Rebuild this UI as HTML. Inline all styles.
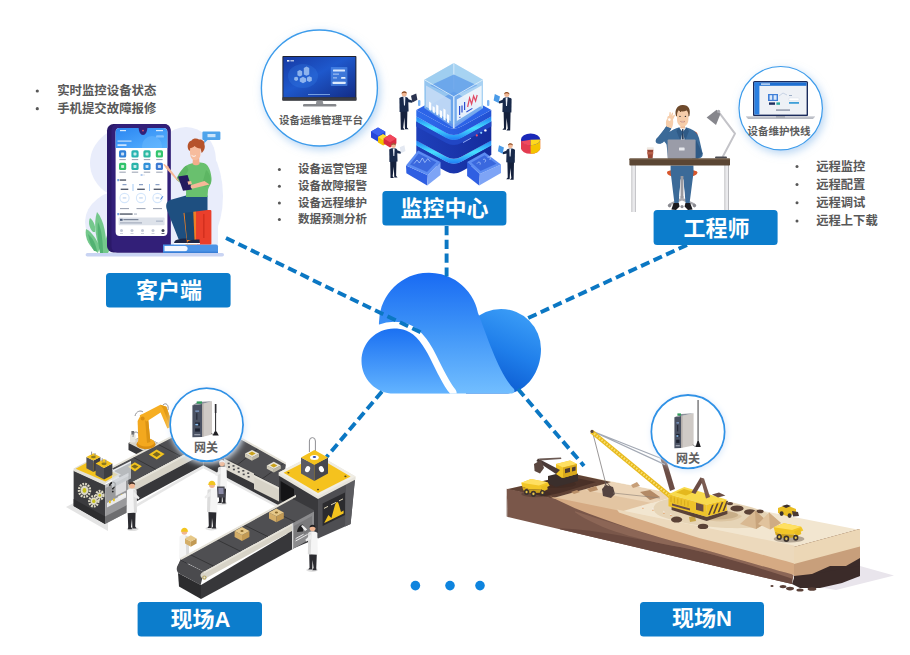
<!DOCTYPE html>
<html lang="zh"><head><meta charset="utf-8"><title>IoT</title>
<style>
html,body{margin:0;padding:0;background:#fff}
body{width:910px;height:655px;overflow:hidden;position:relative;font-family:"Liberation Sans",sans-serif}
svg{position:absolute;left:0;top:0;display:block}
svg text{font-family:"Liberation Sans","Noto Sans CJK SC",sans-serif;font-weight:bold}
.t{position:absolute;white-space:nowrap;line-height:1.2;font-weight:bold;color:transparent;font-family:"Liberation Sans","Noto Sans CJK SC",sans-serif}
</style></head><body>
<svg width="910" height="655" viewBox="0 0 910 655">

<defs>
<linearGradient id="gMain" x1="0" y1="275" x2="0" y2="394" gradientUnits="userSpaceOnUse">
<stop offset="0" stop-color="#1a6cf3"/><stop offset="0.45" stop-color="#3d93f7"/><stop offset="1" stop-color="#72beff"/></linearGradient>
<linearGradient id="gSmall" x1="0" y1="328" x2="0" y2="394" gradientUnits="userSpaceOnUse">
<stop offset="0" stop-color="#1a70f2"/><stop offset="1" stop-color="#63b4ff"/></linearGradient>
<linearGradient id="gRight" x1="530" y1="315" x2="495" y2="392" gradientUnits="userSpaceOnUse">
<stop offset="0" stop-color="#3b9df7"/><stop offset="0.5" stop-color="#1f7eea"/><stop offset="1" stop-color="#0a58cf"/></linearGradient>
<filter id="glow" x="-20%" y="-20%" width="150%" height="150%">
<feDropShadow dx="2" dy="3" stdDeviation="4" flood-color="#7fb4ea" flood-opacity="0.55"/></filter>
<filter id="glow2" x="-25%" y="-25%" width="150%" height="150%">
<feDropShadow dx="1" dy="1.5" stdDeviation="3.2" flood-color="#dcebfb" flood-opacity="1"/></filter>
<clipPath id="cloudclip"><rect x="340" y="260" width="220" height="133.6"/></clipPath>
</defs>
<defs>
<linearGradient id="gPhoneHdr" x1="0" y1="0" x2="1" y2="1"><stop offset="0" stop-color="#2b86f2"/><stop offset="1" stop-color="#58b2ff"/></linearGradient>
<clipPath id="hdrclip"><rect x="115.6" y="128" width="51.8" height="20"/></clipPath>
</defs><defs>
<linearGradient id="gMon" x1="0" y1="0" x2="1" y2="1"><stop offset="0" stop-color="#173aa4"/><stop offset="0.45" stop-color="#1e58cc"/><stop offset="1" stop-color="#132c86"/></linearGradient>
<linearGradient id="gCyan" x1="0" y1="0" x2="0" y2="1"><stop offset="0" stop-color="#1f7cf5"/><stop offset="0.5" stop-color="#45e0ff"/><stop offset="1" stop-color="#1f7cf5"/></linearGradient>
<linearGradient id="gSlab" x1="0" y1="0" x2="1" y2="0"><stop offset="0" stop-color="#1e3fba"/><stop offset="0.5" stop-color="#1a36ac"/><stop offset="1" stop-color="#142c9c"/></linearGradient>
<linearGradient id="gSlabTop" x1="0" y1="0" x2="1" y2="0"><stop offset="0" stop-color="#2f6cec"/><stop offset="0.5" stop-color="#2a5fe2"/><stop offset="1" stop-color="#2150d2"/></linearGradient>
</defs>
<g fill="#e9edfb">
<ellipse cx="137" cy="163" rx="47" ry="39"/>
<ellipse cx="128" cy="222" rx="43" ry="33"/>
<ellipse cx="188" cy="196" rx="35" ry="60"/>
<ellipse cx="186" cy="160" rx="30" ry="33"/>
<rect x="100" y="200" width="118" height="53"/>
</g>
<rect x="85.6" y="253" width="138.4" height="3.6" rx="1.8" fill="#c9d4f3"/>
<g fill="#74c88c">
<path d="M98 253 C90 248 84 238 86 229 C92 232 97 240 100 247 Z"/>
<path d="M101 253 C96 240 93 224 97 212 C104 220 107 236 106 253 Z"/>
<path d="M104 253 C104 243 107 232 112 226 C114 236 112 246 108 253 Z"/>
<path d="M93 232 C89 228 88 222 90 218 C94 221 96 227 95 232 Z"/>
</g>
<g fill="#52b273">
<path d="M100 253 C98 244 97 232 98 222 C102 230 103 244 103 253 Z"/>
<path d="M94 251 C91 246 89 240 88 234 C93 238 96 245 97 251 Z"/>
</g>
<rect x="107" y="124" width="63.6" height="128.4" rx="6.5" fill="#2a1968"/>
<rect x="111.5" y="124" width="59.1" height="128.4" rx="6" fill="#321f78"/>
<rect x="115.6" y="128" width="51.8" height="108" rx="4" fill="#ffffff"/>
<path d="M115.6 148 V132 a4 4 0 0 1 4 -4 H163.4 a4 4 0 0 1 4 4 V148 Z" fill="url(#gPhoneHdr)"/>
<circle cx="152" cy="146" r="10" fill="#7cc4ff" opacity="0.35" clip-path="url(#hdrclip)"/>
<path d="M138.6 128 H147.4 C147 132 145.6 135 143 135 C140.4 135 139 132 138.6 128 Z" fill="#321f78"/>
<circle cx="143" cy="130.6" r="0.9" fill="#e0566f"/>
<rect x="120" y="130" width="6" height="1.2" fill="#fff" opacity="0.8"/>
<rect x="156" y="130" width="7" height="1.2" fill="#fff" opacity="0.8"/>
<rect x="117.5" y="140.5" width="14" height="1.2" fill="#fff" opacity="0.7"/>
<rect x="117.5" y="144.4" width="9" height="1.4" fill="#fff" opacity="0.9"/>
<rect x="156" y="135.2" width="8" height="2.4" rx="1.2" fill="#fff" opacity="0.35"/>
<rect x="119.0" y="150.3" width="7.2" height="7.2" rx="1.6" fill="#2f80d8"/>
<rect x="121.1" y="152.4" width="3" height="3" rx="0.6" fill="#fff" opacity="0.75"/>
<rect x="119.4" y="159.2" width="6.4" height="0.9" fill="#8a93a6"/>
<rect x="131.4" y="150.3" width="7.2" height="7.2" rx="1.6" fill="#28b4b2"/>
<rect x="133.5" y="152.4" width="3" height="3" rx="0.6" fill="#fff" opacity="0.75"/>
<rect x="131.8" y="159.2" width="6.4" height="0.9" fill="#8a93a6"/>
<rect x="143.4" y="150.3" width="7.2" height="7.2" rx="1.6" fill="#2bb9a2"/>
<rect x="145.5" y="152.4" width="3" height="3" rx="0.6" fill="#fff" opacity="0.75"/>
<rect x="143.8" y="159.2" width="6.4" height="0.9" fill="#8a93a6"/>
<rect x="155.8" y="150.3" width="7.2" height="7.2" rx="1.6" fill="#32c56d"/>
<rect x="157.9" y="152.4" width="3" height="3" rx="0.6" fill="#fff" opacity="0.75"/>
<rect x="156.2" y="159.2" width="6.4" height="0.9" fill="#8a93a6"/>
<rect x="119.0" y="162.8" width="7.2" height="7.2" rx="1.6" fill="#30c36b"/>
<rect x="121.1" y="164.9" width="3" height="3" rx="0.6" fill="#fff" opacity="0.75"/>
<rect x="119.4" y="171.7" width="6.4" height="0.9" fill="#8a93a6"/>
<rect x="131.4" y="162.8" width="7.2" height="7.2" rx="1.6" fill="#28b4aa"/>
<rect x="133.5" y="164.9" width="3" height="3" rx="0.6" fill="#fff" opacity="0.75"/>
<rect x="131.8" y="171.7" width="6.4" height="0.9" fill="#8a93a6"/>
<rect x="143.4" y="162.8" width="7.2" height="7.2" rx="1.6" fill="#3090d8"/>
<rect x="145.5" y="164.9" width="3" height="3" rx="0.6" fill="#fff" opacity="0.75"/>
<rect x="143.8" y="171.7" width="6.4" height="0.9" fill="#8a93a6"/>
<rect x="155.8" y="162.8" width="7.2" height="7.2" rx="1.6" fill="#3b79d2"/>
<rect x="157.9" y="164.9" width="3" height="3" rx="0.6" fill="#fff" opacity="0.75"/>
<rect x="156.2" y="171.7" width="6.4" height="0.9" fill="#8a93a6"/>
<rect x="140.6" y="174.6" width="2" height="0.8" fill="#3b79d2"/><rect x="143.4" y="174.6" width="1.2" height="0.8" fill="#b9c2d4"/>
<rect x="117.5" y="179" width="1.2" height="2.2" fill="#3b79d2"/><rect x="119.6" y="179.4" width="6.5" height="1.3" fill="#444c5c"/>
<rect x="122.5" y="184.2" width="4" height="1" fill="#6d88b6"/>
<rect x="120.7" y="188.6" width="7.6" height="1.4" fill="#555d6e"/>
<circle cx="124.5" cy="198" r="4.6" fill="none" stroke="#d4e6fb" stroke-width="1.1"/>
<rect x="122.7" y="197.5" width="3.6" height="0.9" fill="#a7c3e8"/>
<rect x="120.0" y="208.2" width="9" height="0.9" fill="#8a93a6"/>
<rect x="139.0" y="184.2" width="4" height="1" fill="#6d88b6"/>
<rect x="137.2" y="188.6" width="7.6" height="1.4" fill="#555d6e"/>
<circle cx="141.0" cy="198" r="4.6" fill="none" stroke="#d4e6fb" stroke-width="1.1"/>
<rect x="139.2" y="197.5" width="3.6" height="0.9" fill="#a7c3e8"/>
<rect x="136.5" y="208.2" width="9" height="0.9" fill="#8a93a6"/>
<rect x="155.5" y="184.2" width="4" height="1" fill="#6d88b6"/>
<rect x="153.7" y="188.6" width="7.6" height="1.4" fill="#555d6e"/>
<circle cx="157.5" cy="198" r="4.6" fill="none" stroke="#d4e6fb" stroke-width="1.1"/>
<rect x="155.7" y="197.5" width="3.6" height="0.9" fill="#a7c3e8"/>
<rect x="153.0" y="208.2" width="9" height="0.9" fill="#8a93a6"/>
<rect x="132.7" y="184" width="0.6" height="7" fill="#6aa8ee"/><rect x="149" y="184" width="0.6" height="7" fill="#6aa8ee"/>
<path d="M160.6 199.5 l2.2 -3.2" stroke="#2f6fd0" stroke-width="1" fill="none"/>
<rect x="117.5" y="213" width="1.2" height="2.2" fill="#3b79d2"/><rect x="119.6" y="213.4" width="13" height="1.3" fill="#444c5c"/><rect x="134" y="213.6" width="3" height="0.9" fill="#9aa3b5"/>
<rect x="118.6" y="217.6" width="46" height="7.6" rx="1" fill="#dde2ea"/>
<rect x="120" y="218.8" width="2.6" height="2" fill="#4a5a78"/><rect x="123.4" y="219" width="15" height="1.2" fill="#7b8598"/><rect x="120" y="222.4" width="22" height="1" fill="#9aa3b5"/><rect x="156" y="220.4" width="7" height="1.6" fill="#b7c0d0"/>
<circle cx="121.5" cy="230.4" r="1.5" fill="#c3cad8"/>
<rect x="120.0" y="233" width="3" height="0.8" fill="#c3cad8"/>
<circle cx="132.0" cy="230.4" r="1.5" fill="#c3cad8"/>
<rect x="130.5" y="233" width="3" height="0.8" fill="#c3cad8"/>
<circle cx="142.5" cy="230.4" r="1.5" fill="#c3cad8"/>
<rect x="141.0" y="233" width="3" height="0.8" fill="#c3cad8"/>
<circle cx="153.0" cy="230.4" r="1.5" fill="#c3cad8"/>
<rect x="151.5" y="233" width="3" height="0.8" fill="#c3cad8"/>
<circle cx="163.0" cy="230.4" r="1.5" fill="#3a4256"/>
<rect x="161.5" y="233" width="3" height="0.8" fill="#3a4256"/>
<path d="M203.4 131.4 H219.4 a1 1 0 0 1 1 1 V139 a1 1 0 0 1 -1 1 H207.5 L204.2 143.2 V140 H203.4 a1 1 0 0 1 -1 -1 V132.4 a1 1 0 0 1 1 -1 Z" fill="#4fa4eb"/>
<rect x="207.5" y="134" width="8" height="3.2" fill="#d9ecfc" opacity="0.9"/>
<path d="M163 244.4 H216 a2 2 0 0 1 2 2 V253 H163 Z" fill="#4b93e6"/>
<path d="M164.5 246 H185 a2.6 2.6 0 0 1 0 5.2 H164.5 Z" fill="#f4f8ff"/>
<rect x="163" y="251.6" width="55" height="1.4" fill="#3a7fd6"/>
<path d="M180 212.5 L196 210 V244.4 H185.5 Z" fill="#ef7e22"/>
<rect x="196" y="210" width="15.4" height="34.4" rx="1" fill="#ea3f2b"/>
<rect x="203" y="214" width="1.6" height="24" fill="#d4301f"/>
<path d="M184 207 L193 206 L194.5 240 L187 240 Z" fill="#1a466f"/>
<path d="M207.5 195.5 L186 195.5 L170 200 C166 201.5 165.5 206 167 210 L178.5 239 L186.5 239 L183.5 213 L207.5 210 Z" fill="#1e4f80"/>
<path d="M174 243.4 C174 240 178 238.5 186.5 238.5 L187 243.4 Z" fill="#1c2747"/>
<path d="M187 243.4 C187 240.5 191 239.5 199.5 239.5 L199.8 243.4 Z" fill="#1c2747"/>
<rect x="174" y="243" width="13.2" height="1.2" fill="#fff"/><rect x="187.2" y="243" width="12.8" height="1.2" fill="#fff"/>
<path d="M186 166 C190 162.5 200 161.5 205 163.5 C209 165.5 211 172 211.5 178 C212 184 209 186 208 190 L207.5 197 L186 197 C186.5 188 185.5 180 184 174 C183 170 184 167.5 186 166 Z" fill="#69c06e"/>
<path d="M186.5 165.5 C183 167 178.5 174 176 179.5 L180.5 183 C183.5 178 187 173.5 188.5 170 Z" fill="#5db663"/>
<path d="M176.2 179.6 L166 168.5 L164.4 166 L163.2 164.6 L164.6 164 L166.6 166 C167.6 165.4 168.6 166 168.8 167.4 L180.4 182.6 Z" fill="#f6b898"/>
<path d="M178 176.6 L187.6 175 L192 189.4 L183 190.8 Z" fill="#251a5f"/>
<path d="M206 170 C210 173 212 180 210 184.5 L204.5 187 L203 181 Z" fill="#5db663"/>
<path d="M209.6 184.6 L193 188.6 C190.6 188.8 190 186 191.4 185 L204.4 181 Z" fill="#f6b898"/>
<path d="M187.5 181.6 l3.6 -0.6 l0.8 3 l-3.6 0.8 z" fill="#f6b898"/>
<path d="M193 157 L199 157 L199.6 164 C197.6 165.8 194.4 165.8 192.6 164 Z" fill="#f3ad8a"/>
<path d="M190 147 C190 143 200.4 142.6 200.6 148 L200.4 155 C200 159.2 196.6 160.6 194 160 C191.2 159.4 190 156 190 152 Z" fill="#f7bc9d"/>
<path d="M188.6 150 C186.6 146 188 141.4 191.6 140.4 C193 138.2 197 137.8 199 139.6 C202.4 139 205 141.6 204.4 144.6 C205.6 147.6 204 151.4 201.6 153 L200.6 148.4 C198.6 148.6 196 147.6 194.6 146 C193.2 147.6 191.4 148 190.2 148 L190 151 Z" fill="#b6532b"/>
<path d="M191.6 155.4 c1.4 1.2 3 1.2 4.2 0.2" stroke="#fff" stroke-width="0.9" fill="none"/>
<circle cx="319.4" cy="88" r="58" fill="#fff" stroke="#3c9ceb" stroke-width="1.4" filter="url(#glow)"/>
<circle cx="780.7" cy="108.2" r="41.7" fill="#fff" stroke="#3c9ceb" stroke-width="1.2" filter="url(#glow)"/>
<rect x="282.4" y="56" width="74" height="44.6" rx="0.8" fill="#20222e"/>
<rect x="283.4" y="57" width="72" height="40.4" fill="url(#gMon)"/>
<ellipse cx="303" cy="76" rx="15" ry="12" fill="#3f8cf0" opacity="0.22"/>
<g fill="#bcd9fb" opacity="0.7" transform="translate(60.6 15.2) scale(0.8)">
<path d="M296 70 l3 -1.6 l3 1.6 v5 l-3 1.6 l-3 -1.6z"/>
<path d="M304 66 l3.4 -1.8 l3.4 1.8 v8 l-3.4 1.8 l-3.4 -1.8z"/>
<path d="M299 79 l4 -2 l4 2 v4 l-4 2 l-4 -2z"/>
<path d="M308 78 l3 -1.6 l3 1.6 v4 l-3 1.6 l-3 -1.6z"/>
<path d="M292 78 l2.4 -1.2 l2.4 1.2 v3 l-2.4 1.2 l-2.4 -1.2z"/>
</g>
<rect x="287" y="60" width="2.4" height="1.6" fill="#fff" opacity="0.9"/><rect x="290.4" y="60.2" width="3.6" height="1.2" fill="#fff" opacity="0.8"/>
<rect x="330.8" y="67" width="16.6" height="19" rx="0.8" fill="#5b9df5" opacity="0.55"/>
<rect x="333" y="69.4" width="12" height="2" rx="0.5" fill="#e8f2ff" opacity="0.9"/>
<rect x="333" y="73.6" width="6" height="1" fill="#e8f2ff" opacity="0.7"/>
<rect x="333" y="77.4" width="4" height="1" fill="#e8f2ff" opacity="0.7"/><rect x="341" y="77" width="4.6" height="1.8" rx="0.9" fill="#e8f2ff"/>
<rect x="332.6" y="81.8" width="13" height="2.2" rx="0.5" fill="#e8f2ff" opacity="0.95"/>
<rect x="308" y="94" width="22" height="0.9" fill="#9cc3f5" opacity="0.8"/>
<rect x="282.4" y="97.4" width="74" height="3.2" fill="#3b3c42"/>
<path d="M316.6 100.6 H322.6 L323.4 104.4 H315.8 Z" fill="#8e9094"/>
<rect x="303" y="104" width="33.4" height="2.6" rx="1.2" fill="#85878b"/>
<rect x="753" y="81" width="55" height="35.4" rx="1.6" fill="#1b2b5c"/>
<rect x="754.4" y="82.4" width="52.2" height="32.2" fill="#eef1f6"/>
<rect x="754.4" y="82.4" width="52.2" height="3.4" fill="#1e6fd2"/>
<rect x="754.4" y="82.4" width="5" height="32.2" fill="#2b7fe0"/>
<rect x="761" y="83.4" width="9" height="1.4" fill="#cfe2fa"/>
<rect x="768" y="94" width="10" height="7" fill="#3f7fd8"/>
<rect x="769.6" y="95.2" width="2.6" height="4.6" fill="#dbe9fb"/><rect x="773.6" y="95.2" width="3" height="4.6" fill="#dbe9fb"/>
<rect x="769" y="102.4" width="6" height="2.4" fill="#1f2f60"/><rect x="776.4" y="102.4" width="3.6" height="2.4" fill="#2aa7a0"/>
<path d="M779 96 l4 -3 l4 2" stroke="#b8c6dc" stroke-width="0.7" fill="none"/>
<rect x="789" y="95" width="3" height="1" fill="#9fb0c8"/><rect x="789" y="98" width="10" height="2.6" rx="0.4" fill="#fff" stroke="#cdd6e4" stroke-width="0.4"/><rect x="789" y="102" width="10" height="1.8" fill="#3f9fd8"/>
<rect x="776" y="109.6" width="14" height="0.9" fill="#55617a"/>
<path d="M746 116.4 H815 L813 119 H748 Z" fill="#b9bcc4"/>
<rect x="746" y="116.2" width="69" height="1" fill="#d6d8de"/>
<rect x="776" y="116.4" width="9" height="1" fill="#8d919b"/>
<path d="M371 131.5 l7 -4 l7.4 4.2 v6 l-7.2 4 l-7.2 -4.2z" fill="#2747d8"/><path d="M371 131.5 l7 -4 l7.4 4.2 l-7.2 4z" fill="#3d63f0"/>
<path d="M378 137 l5 -2.8 l5.4 3 v5.4 l-5.2 3 l-5.2 -3z" fill="#f2c200"/><path d="M378 137 l5 -2.8 l5.4 3 l-5.2 3z" fill="#ffe03a"/>
<path d="M383.6 138.4 l6.4 -3.8 l6.4 3.8 v5.2 l-6.4 3.8 l-6.4 -3.8z" fill="#d92a40"/><path d="M383.6 138.4 l6.4 -3.8 l6.4 3.8 l-6.4 3.8z" fill="#f2475c"/>
<path d="M521 139.6 v8.6 a9.6 5.6 0 0 0 19.2 0 v-8.6z" fill="#e33b50"/>
<path d="M530.6 145 v8.8 a9.6 5.6 0 0 0 9.6 -5.6 v-8.6z" fill="#f4c400"/>
<ellipse cx="530.6" cy="139.4" rx="9.6" ry="5.8" fill="#1a28b8"/>
<path d="M530.6 139.8 L521.2 141.2 A9.6 5.8 0 0 0 530.6 145.2 Z" fill="#f04a5e"/>
<path d="M530.6 139.8 L530.6 145.2 A9.6 5.8 0 0 0 540.2 139.4 Z" fill="#ffd91f"/>
<path d="M416.3 145.0 L416.3 145.0 L445.8 161.2 Q453.8 165.6 461.8 161.2 L491.3 145.0 L491.3 155.0 L461.8 171.2 Q453.8 175.6 445.8 171.2 L416.3 155.0 Z" fill="url(#gSlab)"/>
<path d="M416.3 140.2 L416.3 140.2 L445.8 156.4 Q453.8 160.8 461.8 156.4 L491.3 140.2 L491.3 145.4 L461.8 161.6 Q453.8 166.0 445.8 161.6 L416.3 145.4 Z" fill="url(#gCyan)"/>
<path d="M416.3 121.3 L416.3 121.3 L445.8 137.5 Q453.8 141.9 461.8 137.5 L491.3 121.3 L491.3 140.4 L461.8 156.6 Q453.8 161.0 445.8 156.6 L416.3 140.4 Z" fill="url(#gSlab)"/>
<path d="M416.3 121.3 L416.3 121.3 L445.8 137.5 Q453.8 141.9 461.8 137.5 L491.3 121.3 L491.3 126.5 L461.8 142.7 Q453.8 147.1 445.8 142.7 L416.3 126.5 Z" fill="#2146c4"/>
<path d="M416.3 116.4 L416.3 116.4 L445.8 132.6 Q453.8 137.0 461.8 132.6 L491.3 116.4 L491.3 121.5 L461.8 137.7 Q453.8 142.1 445.8 137.7 L416.3 121.5 Z" fill="url(#gCyan)"/>
<path d="M416.3 110.0 L416.3 110.0 L445.8 126.2 Q453.8 130.6 461.8 126.2 L491.3 110.0 L491.3 116.6 L461.8 132.8 Q453.8 137.2 445.8 132.8 L416.3 116.6 Z" fill="url(#gSlabTop)"/>
<path d="M416.3 110 L445.8 93.8 Q453.8 89.4 461.8 93.8 L491.3 110 L461.8 126.2 Q453.8 130.6 445.8 126.2 Z" fill="#2c64e8"/>
<circle cx="476.8" cy="135.4" r="1.1" fill="#f0506a"/><circle cx="481.2" cy="132.8" r="1.1" fill="#8fd0ff"/><circle cx="485.4" cy="130.4" r="1.2" fill="#ffffff"/>
<path d="M463 142.6 l8 -4.4" stroke="#9db8ff" stroke-width="0.9" fill="none"/>
<rect x="418" y="100" width="2.4" height="6" rx="1" fill="#7fb6f2"/><rect x="487" y="100" width="2.4" height="6" rx="1" fill="#7fb6f2"/>
<path d="M424.6 108.2 L453.8 91.4 L483 108.2 L453.8 125 Z" fill="#3a83e6"/>
<path d="M424.4 79.8 L453.8 62.9 L453.8 91.4 L424.6 108.2 Z" fill="#9ccdf0"/>
<path d="M483 79.8 L453.8 62.9 L453.8 91.4 L483 108.2 Z" fill="#a8d4f3"/>
<path d="M453.4 63 h0.9 v26 h-0.9z" fill="#f2f9ff"/>
<path d="M430.2 85.4 L453.8 74.6 L477.4 85.4 L453.8 96.4 Z" fill="#3f86e6" opacity="0.85"/>
<path d="M424.4 79.8 L453.8 62.9 L483 79.8 L453.8 96.7 Z" fill="#a5d2f2" opacity="0.35"/>
<path d="M424.4 79.8 L453.8 96.7 L453.8 128.2 L424.6 108.2 Z" fill="#8fc0ee" opacity="0.55"/>
<path d="M426 85.4 L450.8 99.8 L450.8 121.2 L426 106.8 Z" fill="#c6dcf6" opacity="0.88"/>
<path d="M483 79.8 L453.8 96.7 L453.8 128.2 L483 108.2 Z" fill="#a9d0f2" opacity="0.55"/>
<path d="M456.8 99.4 L481.6 85.6 L481.6 105.6 L456.8 121 Z" fill="#f0f5fc" opacity="0.92"/>
<path d="M424.4 79.8 L453.8 96.7 L483 79.8" stroke="#e4f2fd" stroke-width="0.8" fill="none"/>
<path d="M453.8 96.7 V128.2" stroke="#e9f4fe" stroke-width="1.2" fill="none"/>
<path d="M429.0 109.6 v-8.0 l2.2 1.3 v8.0 z" fill="#ffffff" opacity="0.95"/>
<path d="M432.6 112.1 v-6.0 l2.2 1.3 v6.0 z" fill="#ffffff" opacity="0.95"/>
<path d="M436.2 114.5 v-10.0 l2.2 1.3 v10.0 z" fill="#ffffff" opacity="0.95"/>
<path d="M439.8 117.0 v-7.0 l2.2 1.3 v7.0 z" fill="#ffffff" opacity="0.95"/>
<path d="M443.4 119.5 v-11.0 l2.2 1.3 v11.0 z" fill="#ffffff" opacity="0.95"/>
<path d="M447.0 121.9 v-8.0 l2.2 1.3 v8.0 z" fill="#ffffff" opacity="0.95"/>
<path d="M459.6 115 v-9 m2.4 6.4 v-7 m2.6 4.6 v-8" stroke="#2b4fd0" stroke-width="1.2" fill="none"/>
<path d="M467.6 107 l2 -9 l2 6 l2 -8 l2 5 l1.6 -6" stroke="#e04a64" stroke-width="1.2" fill="none"/>
<path d="M459.4 117.6 l1 -0.6 m6 -5 l6 -3.6" stroke="#2b4fd0" stroke-width="1.1"/>
<path d="M406 165.6 L427.8 175.3 L427.2 185.6 L406.4 173.2 Z" fill="#2f5fe2"/>
<path d="M427.8 175.3 L440.5 162 L440.5 175 L427.2 185.6 Z" fill="#7ea4f6"/>
<path d="M418.1 150.5 L406 165.6 L427.8 175.3 L440.5 162 Z" fill="#5c8cf2"/>
<path d="M418.6 153.6 L410 164.6 L427 172 L436.4 162.2 Z" fill="#3a68de"/>
<path d="M414 163.6 l3 -3.6 l2.4 3 l3 -5 l2.4 4.6 l3 -4 l2.4 3" stroke="#b9d2ff" stroke-width="0.7" fill="none"/>
<path d="M467.1 162 L479.8 174.1 L479.2 185.6 L467.1 175.9 Z" fill="#2f5fe2"/>
<path d="M479.8 174.1 L501 164.4 L501 172.9 L479.2 185.6 Z" fill="#7ea4f6"/>
<path d="M484.6 152.3 L467.1 162 L479.8 174.1 L501 164.4 Z" fill="#5c8cf2"/>
<path d="M484.6 155.2 L471.4 162.4 L480.6 171 L496.4 163.8 Z" fill="#3a68de"/>
<path d="M477 163.6 c2 -3 4 -1 3 1 m3 -5 c2.4 -1.4 3.6 1 1.6 2.8 m3 -5 c2.4 -1.6 4 0.6 2 2.6" stroke="#b9d2ff" stroke-width="0.7" fill="none"/>
<g transform="translate(404.0 129.4) scale(1.0 1.0)"><path d="M-3.6 -19 L3.4 -19 L3 -2 L4.6 -0.2 L1 -0.2 L0.4 -12 L-0.8 -1.6 L0.6 0.4 L-3.2 0.4 Z" fill="#14203c"/><path d="M-4.6 -31 C-4.6 -33 3.6 -33.4 4.2 -31 L4.6 -18 L-4.4 -17.4 Z" fill="#18294a"/><path d="M-0.6 -32.4 L1.4 -32.4 L1 -24 L0 -24 Z" fill="#e9eef7"/><path d="M2.6 -31 L8.6 -28.6 L8 -26.6 L2.4 -27.4 Z" fill="#18294a"/><path d="M7 -33.6 L12.2 -36 L13.4 -29.6 L8.4 -27 Z" fill="#2b3350"/><circle cx="0.2" cy="-35.4" r="2.5" fill="#f2b895"/><path d="M-2.4 -35.6 C-2.6 -38.8 2.8 -39 2.8 -35.8 C1.2 -37 -1 -37 -2.4 -35.6 Z" fill="#8b4a22"/></g>
<g transform="translate(507.0 130.0) scale(-1.0 1.0)"><path d="M-3.6 -19 L3.4 -19 L3 -2 L4.6 -0.2 L1 -0.2 L0.4 -12 L-0.8 -1.6 L0.6 0.4 L-3.2 0.4 Z" fill="#14203c"/><path d="M-4.6 -31 C-4.6 -33 3.6 -33.4 4.2 -31 L4.6 -18 L-4.4 -17.4 Z" fill="#18294a"/><path d="M-0.6 -32.4 L1.4 -32.4 L1 -24 L0 -24 Z" fill="#e9eef7"/><path d="M2.6 -31 L8.6 -28.6 L8 -26.6 L2.4 -27.4 Z" fill="#18294a"/><path d="M7 -33.6 L12.2 -36 L13.4 -29.6 L8.4 -27 Z" fill="#4a9be8"/><circle cx="0.2" cy="-35.4" r="2.5" fill="#f2b895"/><path d="M-2.4 -35.6 C-2.6 -38.8 2.8 -39 2.8 -35.8 C1.2 -37 -1 -37 -2.4 -35.6 Z" fill="#8b4a22"/></g>
<g transform="translate(393.4 177.6) scale(0.9 0.9)"><path d="M-3.6 -19 L3.4 -19 L3 -2 L4.6 -0.2 L1 -0.2 L0.4 -12 L-0.8 -1.6 L0.6 0.4 L-3.2 0.4 Z" fill="#14203c"/><path d="M-4.6 -31 C-4.6 -33 3.6 -33.4 4.2 -31 L4.6 -18 L-4.4 -17.4 Z" fill="#18294a"/><path d="M-0.6 -32.4 L1.4 -32.4 L1 -24 L0 -24 Z" fill="#e9eef7"/><path d="M2.6 -31 L8.6 -28.6 L8 -26.6 L2.4 -27.4 Z" fill="#18294a"/><path d="M7 -33.6 L12.2 -36 L13.4 -29.6 L8.4 -27 Z" fill="#e4e9f2"/><circle cx="0.2" cy="-35.4" r="2.5" fill="#f2b895"/><path d="M-2.4 -35.6 C-2.6 -38.8 2.8 -39 2.8 -35.8 C1.2 -37 -1 -37 -2.4 -35.6 Z" fill="#8b4a22"/></g>
<g transform="translate(510.6 179.4) scale(-0.95 0.95)"><path d="M-3.6 -19 L3.4 -19 L3 -2 L4.6 -0.2 L1 -0.2 L0.4 -12 L-0.8 -1.6 L0.6 0.4 L-3.2 0.4 Z" fill="#14203c"/><path d="M-4.6 -31 C-4.6 -33 3.6 -33.4 4.2 -31 L4.6 -18 L-4.4 -17.4 Z" fill="#18294a"/><path d="M-0.6 -32.4 L1.4 -32.4 L1 -24 L0 -24 Z" fill="#e9eef7"/><path d="M2.6 -31 L8.6 -28.6 L8 -26.6 L2.4 -27.4 Z" fill="#18294a"/><path d="M7 -33.6 L12.2 -36 L13.4 -29.6 L8.4 -27 Z" fill="#4a9be8"/><circle cx="0.2" cy="-35.4" r="2.5" fill="#f2b895"/><path d="M-2.4 -35.6 C-2.6 -38.8 2.8 -39 2.8 -35.8 C1.2 -37 -1 -37 -2.4 -35.6 Z" fill="#8b4a22"/></g>
<rect x="631.4" y="165" width="1.2" height="47" fill="#b9b9bd"/><rect x="634.6" y="165" width="1.2" height="47" fill="#b9b9bd"/><rect x="632.6" y="165" width="2" height="47" fill="#e9e9ec"/>
<rect x="724.4" y="165" width="1.2" height="46" fill="#b9b9bd"/><rect x="727.8" y="165" width="1.2" height="46" fill="#b9b9bd"/><rect x="725.6" y="165" width="2.2" height="46" fill="#e9e9ec"/>
<rect x="680.6" y="176" width="2.8" height="22" fill="#9a9aa0"/>
<path d="M669 203.4 L682 197.6 L695 203.4 L694 205.4 L682 200.6 L670 205.4 Z" fill="#a8a8ae"/>
<circle cx="669.6" cy="205.6" r="1.8" fill="#8a8a90"/><circle cx="694.4" cy="205.6" r="1.8" fill="#8a8a90"/><circle cx="682" cy="206.6" r="1.6" fill="#8a8a90"/>
<path d="M690 132 C694 130.4 697.6 131.4 697.6 135 L698.6 158 L689 158 Z" fill="#d8572c"/>
<path d="M667 172.6 C667 170.6 670 170 682 170 C694 170 697.4 170.6 697.4 172.6 C697.4 175.6 692 177.4 682 177.4 C672 177.4 667 175.6 667 172.6 Z" fill="#d8572c"/>
<path d="M670.6 165.6 L693.4 165.6 L693.6 172 L689.6 203 L685.6 203 L683.4 180 L682 176 L680.6 180 L678.6 203 L674.4 203 L670.6 172 Z" fill="#3b6a98"/>
<path d="M682 176 L680.6 180 L679.4 196 L684.6 196 L683.4 180 Z" fill="#fff"/>
<rect x="680.6" y="176" width="2.8" height="22" fill="#9a9aa0"/>
<path d="M673.6 203 L678.8 203 L679.6 206.4 L676 210 L671.4 209.6 Z" fill="#1b1b1f"/>
<path d="M685.4 203 L690.2 203 L692.6 209.6 L688 210 L684.6 206.4 Z" fill="#1b1b1f"/>
<path d="M666 139 C668 131.6 674 128.6 679 127.4 L686 127.4 C692 128.8 697 131.4 699 138 L702.6 153.6 C703.2 156.4 701 158.4 698.4 158.6 L668 158.6 Z" fill="#3b6a98"/>
<path d="M679 128 L673 130 L658 137.4 C654.6 139.4 655 143.4 658.6 143.8 C660.6 144 662 143 662.8 141.4 L671 128.6 L666.6 125.6 L660 136.6 L668 146 L677 140 Z" fill="#3b6a98"/>
<path d="M666.4 126.4 L671.4 128.6 L664 141.6 C662.6 144 658 144.4 656.6 141.6 C656 140 656.4 138.6 657.6 137.6 Z" fill="#3b6a98"/>
<path d="M666.6 126.8 C665.4 123.6 665.8 120 667.4 118.6 C667 116.6 668 115.6 669 116 L669.6 112 L670.8 112.2 L670.8 115.6 L672.2 112.6 L673.2 113 L672.4 116.6 L674.2 114.6 L675 115.4 L673 119.4 C673.6 122.4 673 125.6 671.8 128.2 Z" fill="#f6cdaa"/>
<circle cx="669.4" cy="119.6" r="1.3" fill="#fff"/>
<path d="M679.4 127.4 L686 127.4 L684.6 140 L680.6 140 Z" fill="#fff"/>
<path d="M682.1 129 L683.4 129 L683.8 139.6 L681.6 139.6 Z" fill="#2a3f5c"/>
<path d="M679 127.4 L682.6 132 L680.4 141 L676.4 131 Z" fill="#2f5a86"/><path d="M686.4 127.4 L682.8 132 L685 141 L689 131 Z" fill="#2f5a86"/>
<rect x="680.4" y="122" width="4.6" height="6.4" fill="#eebd98"/>
<path d="M676.8 113 C676.8 108.6 688.6 108.6 688.6 113 L688.4 120 C688 124.4 685 126.6 682.6 126.6 C680.2 126.6 677.2 124.4 677 120 Z" fill="#f6cdaa"/>
<path d="M676 116 C674.4 110 677 105.4 682.4 105 C688.4 104.6 691 109 689.4 116 L688.4 116.6 C688.6 113.4 687.6 111.4 686.6 110.6 C683.6 112 679.6 111.6 678.4 110.6 C677.4 112 676.8 114 677 116.6 Z" fill="#6e4a2c"/>
<circle cx="680" cy="116.4" r="0.7" fill="#333"/><circle cx="685.4" cy="116.4" r="0.7" fill="#333"/>
<path d="M680.4 121.4 c1.4 1.4 3.2 1.4 4.6 0 z" fill="#fff" stroke="#b05a4a" stroke-width="0.4"/>
<path d="M696 140 L702.6 153.6 L698 158.6 L692 158.6 Z" fill="#2f5a86"/>
<path d="M668.6 139.6 H694.6 a1 1 0 0 1 1 1 V158.6 H667.6 V140.6 a1 1 0 0 1 1 -1 Z" fill="#9a9ca8"/>
<rect x="679" y="147.4" width="5.6" height="3.2" rx="0.6" fill="#e6e7ec"/>
<path d="M647.2 149.4 H653.4 L652.6 158.6 H648 Z" fill="#9a4634"/>
<rect x="646.8" y="147.2" width="7" height="2.4" rx="0.8" fill="#efe9e2"/>
<rect x="647.4" y="152" width="5.8" height="2.4" fill="#b7604a"/>
<path d="M718.4 111.6 L735 133.6 L722.6 157" stroke="#c3c3c8" stroke-width="2" fill="none" stroke-linejoin="round"/>
<path d="M706.6 117.4 L716.6 109.8 L720.4 114 L716 125 Z" fill="#86868c"/>
<circle cx="718.6" cy="111.4" r="1.6" fill="#a8a8ae"/>
<rect x="715" y="156.4" width="12" height="2.2" rx="1" fill="#4a4a50"/>
<rect x="629.4" y="158.6" width="100.6" height="7" rx="0.8" fill="#5b4634"/>
<rect x="629.4" y="158.6" width="100.6" height="1.4" fill="#6e5843"/>
<path d="M466 393.6 L505 393.6 C526 393.6 541 372 541 349 A40 40 0 0 0 461 349 Z" fill="url(#gRight)"/>
<path d="M379 325 A50 50 0 0 1 478 313 C487 336 499 374 514 389 Q516 393.6 510 393.6 L420 393.6 L380 345 Z" fill="url(#gMain)"/>
<path d="M394 328.5 C376 328.5 361.5 343 361.5 361 C361.5 379 376 393.6 394 393.6 L450 393.6 C443 385 437 372 430 358 C424 346 416 334 406 330.5 C402 329 398 328.5 394 328.5 Z" fill="#fff" stroke="#fff" stroke-width="13.6" stroke-linejoin="round" clip-path="url(#cloudclip)"/>
<path d="M394 328.5 C376 328.5 361.5 343 361.5 361 C361.5 379 376 393.6 394 393.6 L450 393.6 C443 385 437 372 430 358 C424 346 416 334 406 330.5 C402 329 398 328.5 394 328.5 Z" fill="url(#gSmall)"/>
<path d="M446.6 226 V277" stroke="#0b77c3" stroke-width="3.9" stroke-dasharray="9.2 4.6" fill="none"/>
<path d="M687 245 L526 319" stroke="#0b77c3" stroke-width="3.9" stroke-dasharray="9.2 4.6" fill="none"/>
<path d="M382 391.5 L326.5 457" stroke="#0b77c3" stroke-width="3.9" stroke-dasharray="9.2 4.6" fill="none"/>
<path d="M518 389 L584 466" stroke="#0b77c3" stroke-width="3.9" stroke-dasharray="9.2 4.6" fill="none"/>
<path d="M226 238 L422 333" stroke="#0b77c3" stroke-width="3.9" stroke-dasharray="9.2 4.6" fill="none"/>
<path d="M66.0 507.0 L73.6 503.0 L108.0 521.0 L108.0 531.0 Z" fill="#e4e4e4"/>
<path d="M128.0 512.0 L203.3 468.3 L203.3 465.3 L128.0 509.0 Z" fill="#e6e6e6"/>
<path d="M203.3 465.3 L203.3 468.3 L279.0 508.4 L279.0 505.4 Z" fill="#e6e6e6"/>
<path d="M128.5 443.0 L143.0 435.4 L158.0 443.0 L158.0 450.0 L143.0 457.6 L128.5 450.0 Z" fill="#37373a"/>
<path d="M128.5 443.0 L143.0 435.4 L158.0 443.0 L143.0 450.6 Z" fill="#d7d3c7"/>
<rect x="130" y="434" width="5.6" height="8.6" rx="1.6" fill="#e9e7e0"/><rect x="131.4" y="431" width="2.8" height="3.6" fill="#6d6d70"/>
<path d="M112.0 468.0 L208.0 418.6 L208.0 442.0 L126.0 485.4 Z" fill="#4f4f52"/>
<path d="M133.0 457.2 L156.0 469.5" stroke="#2e2e30" stroke-width="0.8"/>
<path d="M158.0 444.3 L181.0 456.3" stroke="#2e2e30" stroke-width="0.8"/>
<path d="M183.0 431.5 L206.0 443.0" stroke="#2e2e30" stroke-width="0.8"/>
<path d="M112.0 466.4 L208.0 417.0 L208.0 419.2 L112.0 468.6 Z" fill="#e6e3d9"/>
<path d="M148.8 454.6 L156.6 449.4 L164.6 454.0 L156.8 459.6 Z" fill="#f2c31e"/>
<path d="M152.6 454.4 L156.6 451.8 L160.6 454.2 L156.7 457.0 Z" fill="#7a6820"/>
<path d="M128.0 466.8 L134.8 462.2 L141.8 466.2 L135.0 471.4 Z" fill="#f2c31e"/>
<path d="M131.4 466.6 L134.8 464.4 L138.4 466.4 L135.0 468.8 Z" fill="#7a6820"/>
<path d="M128.0 484.4 L203.3 444.5 L203.3 454.0 L128.0 493.9 Z" fill="#d7d3c7"/>
<path d="M128.0 484.4 L203.3 444.5 L203.3 446.7 L128.0 486.6 Z" fill="#e6e3d9"/>
<path d="M128.0 493.9 L203.3 454.0 L203.3 465.3 L128.0 505.9 Z" fill="#37373a"/>
<ellipse cx="146" cy="444.4" rx="9.6" ry="4.8" fill="#d98e12"/>
<ellipse cx="146" cy="442.4" rx="8.4" ry="4" fill="#f3a81e"/>
<path d="M133 437 C133 430 139 431 139 436" stroke="#8a8a8e" stroke-width="0.9" fill="none"/>
<path d="M138.4 442.6 L137.6 421.0 L141.0 414.6 L148.0 417.4 L150.4 442.0 Z" fill="#f3a81e"/>
<path d="M145.0 418.0 L148.0 417.4 L150.4 442.0 L147.0 443.0 Z" fill="#dc9414"/>
<path d="M139.6 415.6 L160.4 404.8 L166.4 406.8 L173.0 426.0 L167.4 428.6 L160.6 412.6 L146.6 421.4 Z" fill="#f6ae22"/>
<path d="M160.4 404.8 L166.4 406.8 L173.0 426.0 L170.4 427.2 L163.0 408.6 Z" fill="#e29a16"/>
<circle cx="142.6" cy="418.6" r="2" fill="#d98e12"/>
<path d="M135 416 C136 411 141 410 143 412 M163 405 C166 402 169 405 168 410" stroke="#8a8a8e" stroke-width="0.9" fill="none"/>
<path d="M205.0 418.7 L286.0 464.1 L282.0 489.0 L205.0 450.5 Z" fill="#4f4f52"/>
<path d="M258.0 448.4 L236.0 466.0" stroke="#2e2e30" stroke-width="0.8"/>
<path d="M284.0 463.0 L262.0 479.0" stroke="#2e2e30" stroke-width="0.8"/>
<path d="M205.0 417.1 L286.0 462.5 L286.0 464.7 L205.0 419.3 Z" fill="#e6e3d9"/>
<path d="M245.0 453.6 L252.0 457.3 L252.0 460.7 L245.0 457.0 Z" fill="#cfcab8"/><path d="M259.0 453.6 L252.0 457.3 L252.0 460.7 L259.0 457.0 Z" fill="#bdb8a6"/><path d="M245.0 453.6 L252.0 449.9 L259.0 453.6 L252.0 457.3 Z" fill="#e9e5d6"/>
<path d="M248.4 453.6 L252.0 451.6 L255.6 453.6 L252.0 455.6 Z" fill="#c9a21c"/>
<path d="M266.8 465.4 L273.8 469.1 L273.8 472.5 L266.8 468.8 Z" fill="#cfcab8"/><path d="M280.8 465.4 L273.8 469.1 L273.8 472.5 L280.8 468.8 Z" fill="#bdb8a6"/><path d="M266.8 465.4 L273.8 461.7 L280.8 465.4 L273.8 469.1 Z" fill="#e9e5d6"/>
<path d="M270.2 465.4 L273.8 463.4 L277.4 465.4 L273.8 467.4 Z" fill="#c9a21c"/>
<path d="M203.3 445.6 L280.0 488.0 L280.0 506.1 L203.3 465.3 Z" fill="#37373a"/>
<path d="M254.0 475.0 L279.0 487.5 L279.0 501.5 L254.0 489.0 Z" fill="#d7d3c7"/>
<path d="M254.0 475.0 L279.0 487.5 L279.0 489.5 L254.0 477.0 Z" fill="#e6e3d9"/>
<path d="M224.0 458.4 L254.0 473.4 L254.6 484.0 L224.6 469.0 Z" fill="#dedad0"/>
<rect x="227.6" y="462.6" width="2" height="1.6" fill="#4a4a4e"/>
<rect x="228.0" y="466.2" width="2" height="1.6" fill="#4a4a4e"/>
<rect x="232.5" y="465.1" width="2" height="1.6" fill="#4a4a4e"/>
<rect x="232.9" y="468.7" width="2" height="1.6" fill="#4a4a4e"/>
<rect x="237.4" y="467.5" width="2" height="1.6" fill="#4a4a4e"/>
<rect x="237.8" y="471.1" width="2" height="1.6" fill="#4a4a4e"/>
<rect x="242.3" y="470.0" width="2" height="1.6" fill="#4a4a4e"/>
<rect x="242.7" y="473.6" width="2" height="1.6" fill="#4a4a4e"/>
<rect x="247.2" y="472.4" width="2" height="1.6" fill="#4a4a4e"/>
<rect x="247.6" y="476.0" width="2" height="1.6" fill="#4a4a4e"/>
<path d="M279.0 475.0 L318.0 498.0 L318.0 538.0 L292.0 549.0 L279.0 505.4 Z" fill="#39393c"/>
<path d="M280.6 481.0 L294.0 489.0 L294.0 508.0 L280.6 500.0 Z" fill="#141416"/>
<path d="M318.0 498.0 L355.0 479.0 L350.6 524.0 L318.0 538.6 Z" fill="#4e4e52"/>
<path d="M346.0 483.6 L355.0 479.0 L350.6 524.0 L345.0 526.6 Z" fill="#5c5c60"/>
<path d="M322.6 503.6 L345.0 492.6 L345.0 515.0 L322.6 526.0 Z" fill="#2b2b2e"/>
<path d="M324.4 522.6 L328.4 515 L331.4 518 L335 505 C336.4 501 338 501 339 505 L341 512 L343.6 510.6 L343.6 513.4 L324.4 523 Z" fill="#f2c31e"/>
<path d="M324 508.4 l4 -2 m3 -1.5 l5 -2.5 m3 -1.5 l4 -2" stroke="#f2e9c8" stroke-width="0.9"/>
<path d="M278.6 472.6 L316.0 453.4 L355.6 476.6 L355.6 479.6 L318.0 499.0 L278.6 475.6 Z" fill="#e7e4db"/>
<path d="M278.6 472.6 L316.0 453.4 L355.6 476.6 L318.0 496.0 Z" fill="#f0ede4"/>
<path d="M283.6 472.8 L316.0 456.2 L350.6 476.4 L318.0 493.0 Z" fill="#f5c21e"/>
<ellipse cx="288.4" cy="472.8" rx="1.1" ry="0.8" fill="#5a4a18"/>
<ellipse cx="316.4" cy="459.4" rx="1.1" ry="0.8" fill="#5a4a18"/>
<ellipse cx="345.4" cy="476.4" rx="1.1" ry="0.8" fill="#5a4a18"/>
<ellipse cx="318.0" cy="489.6" rx="1.1" ry="0.8" fill="#5a4a18"/>
<path d="M309.4 452 V441 a3 3.4 0 0 1 6 0 V452" stroke="#8f8f93" stroke-width="1" fill="none"/>
<path d="M301.0 457.4 L314.4 464.8 L314.4 481.0 L301.0 473.4 Z" fill="#5b5b62"/>
<path d="M328.0 457.4 L314.4 464.8 L314.4 481.0 L328.0 473.4 Z" fill="#47474d"/>
<path d="M301.0 457.4 L314.4 450.0 L328.0 457.4 L314.4 464.8 Z" fill="#f5c21e"/>
<ellipse cx="314.4" cy="457.4" rx="4.4" ry="2.5" fill="#fff"/><ellipse cx="314.4" cy="457" rx="1.7" ry="1.1" fill="#2d48b8"/>
<ellipse cx="307.6" cy="469.2" rx="2.4" ry="3.2" fill="#fff" transform="rotate(25 307.6 469.2)"/>
<ellipse cx="321.4" cy="469.2" rx="2.4" ry="3.2" fill="#fff" transform="rotate(-25 321.4 469.2)"/>
<g transform="translate(184.0 574.0) scale(0.98 0.98)"><ellipse cx="1" cy="0.4" rx="6" ry="2" fill="#000" opacity="0.12"/><path d="M-4 -17 L4 -17 L3.6 -2 L5 0 L0.8 0 L0.4 -10 L-0.6 -1.6 L0.8 0.6 L-3.6 0.6 L-3.4 -2 Z" fill="#2b2b30"/><path d="M-4.6 -38 C-4 -40.4 4 -40.4 4.8 -38 L5.4 -16 L-5 -15.4 Z" fill="#f5f5f5"/><path d="M1.6 -39 L4.8 -38 L5.4 -16 L2.4 -16 Z" fill="#dcdcdc"/><path d="M2 -37 L8 -31 L7 -29.4 L1.6 -32 Z" fill="#ececec"/><circle cx="0.4" cy="-43" r="3" fill="#f0b692"/><path d="M-3 -43.4 C-3 -48.4 4 -48.4 4 -43.4 L4.8 -43 L-3.6 -43 Z" fill="#f2c520"/></g>
<path d="M178.0 573.0 L201.0 585.0 L201.0 599.0 L179.0 586.4 Z" fill="#2c2c2e"/>
<path d="M201.0 585.0 L201.0 599.0 L292.0 549.6 L292.0 531.0 Z" fill="#37373a"/>
<path d="M177.0 568.6 L180.0 560.6 L204.0 572.0 L201.0 579.4 Z" fill="#505053"/>
<path d="M177.4 566 C176 569 177 572.6 179.4 573.6 L200.6 585 L204 572 L180.4 560.4 Z" fill="#4a4a4d"/>
<path d="M180.4 559.7 L292.0 498.6 L314.0 510.2 L314.0 511.5 L204.0 571.8 Z" fill="#4f4f52"/>
<path d="M190.0 554.5 L214.0 566.3" stroke="#2e2e30" stroke-width="0.8"/>
<path d="M217.0 539.7 L241.0 551.5" stroke="#2e2e30" stroke-width="0.8"/>
<path d="M244.0 524.9 L268.0 536.7" stroke="#2e2e30" stroke-width="0.8"/>
<path d="M271.0 510.1 L295.0 521.9" stroke="#2e2e30" stroke-width="0.8"/>
<path d="M180.4 558.1 L296.0 494.8 L296.0 497.0 L180.4 560.3 Z" fill="#e6e3d9"/>
<path d="M204 571.8 L292 523.6 L292 531.0 L204 579.2 C199.6 578.2 199 572.8 204 571.8 Z" fill="#d7d3c7"/>
<path d="M204.0 571.8 L292.0 523.6 L292.0 525.4 L204.0 573.6 Z" fill="#e6e3d9"/>
<circle cx="204.4" cy="577.6" r="2.2" fill="#b9a96a"/><circle cx="204.4" cy="577.6" r="1" fill="#e9e4d0"/>
<path d="M234.6 531.0 L242.0 534.9 L242.0 540.9 L234.6 537.0 Z" fill="#d4ae68"/><path d="M249.4 531.0 L242.0 534.9 L242.0 540.9 L249.4 537.0 Z" fill="#c29a54"/><path d="M234.6 531.0 L242.0 527.1 L249.4 531.0 L242.0 534.9 Z" fill="#e6c888"/>
<ellipse cx="242" cy="531" rx="1.6" ry="1" fill="#8a6a2e"/>
<path d="M269.0 512.4 L276.4 516.3 L276.4 522.3 L269.0 518.4 Z" fill="#d4ae68"/><path d="M283.8 512.4 L276.4 516.3 L276.4 522.3 L283.8 518.4 Z" fill="#c29a54"/><path d="M269.0 512.4 L276.4 508.5 L283.8 512.4 L276.4 516.3 Z" fill="#e6c888"/>
<ellipse cx="276.4" cy="512.4" rx="1.6" ry="1" fill="#8a6a2e"/>
<path d="M292.0 523.6 L314.0 511.6 L314.0 537.0 L292.0 549.4 Z" fill="#8c8c8e"/>
<path d="M294.0 526.0 L312.0 516.0 L312.0 530.0 L294.0 540.0 Z" fill="#7a7a7c"/>
<path d="M297 532 c0.6 -4 3 -7 5.4 -7.4 c2 0.6 1 4 0.6 7 z" fill="#1f1f21"/>
<path d="M295.6 538.6 l8 -4.4 m-8 6.8 l12 -6.6" stroke="#f2f2f2" stroke-width="0.9"/>
<path d="M292.0 523.6 L293.2 523.0 L293.2 548.8 L292.0 549.4 Z" fill="#d8d8d8"/>
<path d="M185.0 538.4 L190.8 541.5 L190.8 546.7 L185.0 543.6 Z" fill="#d4ae68"/><path d="M196.6 538.4 L190.8 541.5 L190.8 546.7 L196.6 543.6 Z" fill="#c29a54"/><path d="M185.0 538.4 L190.8 535.3 L196.6 538.4 L190.8 541.5 Z" fill="#e6c888"/>
<path d="M73.6 470.6 L105.4 485.0 L105.0 524.0 L73.6 506.0 Z" fill="#3b3b3e"/>
<path d="M73.6 499.0 L105.2 516.6 L105.0 524.0 L73.6 506.0 Z" fill="#2d2d2f"/>
<ellipse cx="84.5" cy="490.4" rx="5.5" ry="6.4" fill="none" stroke="#dcd8c4" stroke-width="2.4" stroke-dasharray="1.8 1"/>
<ellipse cx="84.5" cy="490.4" rx="4.0" ry="4.6" fill="#dcd8c4"/>
<ellipse cx="84.5" cy="490.4" rx="1.9" ry="2.3" fill="#c7c11a"/>
<ellipse cx="93.8" cy="501.2" rx="4.5" ry="5.2" fill="none" stroke="#dcd8c4" stroke-width="2.4" stroke-dasharray="1.8 1"/>
<ellipse cx="93.8" cy="501.2" rx="3.2" ry="3.7" fill="#dcd8c4"/>
<ellipse cx="93.8" cy="501.2" rx="1.6" ry="1.9" fill="#c7c11a"/>
<ellipse cx="99.8" cy="495.2" rx="3.6" ry="4.2" fill="none" stroke="#dcd8c4" stroke-width="2.4" stroke-dasharray="1.8 1"/>
<ellipse cx="99.8" cy="495.2" rx="2.6" ry="3.0" fill="#dcd8c4"/>
<ellipse cx="99.8" cy="495.2" rx="1.3" ry="1.5" fill="#c7c11a"/>
<path d="M105.4 485.0 L128.4 473.0 L128.0 512.0 L105.0 524.0 Z" fill="#9a9a9c"/>
<path d="M105.4 485.0 L128.4 473.0 L128.4 476.0 L105.4 488.0 Z" fill="#c4c4c6"/>
<path d="M105.0 516.6 L128.0 504.6 L128.0 512.0 L105.0 524.0 Z" fill="#6e6e70"/>
<path d="M107.0 503.0 L126.0 493.0 L126.0 497.6 L107.0 507.6 Z" fill="#e9e9ea"/>
<rect x="109" y="500.6" width="1.8" height="2.6" fill="#e9c81e"/><rect x="113" y="498.6" width="1.8" height="2.6" fill="#e9c81e"/><rect x="121" y="494.4" width="1.8" height="2.6" fill="#e9c81e"/>
<path d="M109.6 485.8 c0.4 -3.6 5.6 -5 5.8 -1.4 c0 2.4 -2.6 2.6 -2.8 5" stroke="#222" stroke-width="1.5" fill="none"/><circle cx="112.8" cy="491.6" r="0.9" fill="#222"/>
<path d="M115.6 486.0 L126.0 480.6 L126.0 490.6 L115.6 496.0 Z" fill="#dcdcde"/>
<path d="M73.6 468.6 L90.0 459.6 L121.0 474.6 L105.4 483.4 L105.4 485.6 L73.6 471.0 Z" fill="#e3e0d6"/>
<path d="M75.6 468.8 L90.0 461.0 L118.0 474.6 L105.4 481.6 Z" fill="#f3c21e"/>
<path d="M112.0 470.6 L131.0 461.0 L131.0 478.4 L112.0 488.0 Z" fill="#d9dde2" opacity="0.75"/>
<path d="M112.0 470.6 L131.0 461.0 L131.0 462.4 L112.0 472.0 Z" fill="#f2f4f6" opacity="0.9"/>
<path d="M86.4 456.9 L93.4 460.6 L93.4 472.0 L86.4 468.3 Z" fill="#515156"/><path d="M100.4 456.9 L93.4 460.6 L93.4 472.0 L100.4 468.3 Z" fill="#3e3e42"/><path d="M86.4 456.9 L93.4 453.2 L100.4 456.9 L93.4 460.6 Z" fill="#f3c21e"/>
<path d="M91.6 455 v-3.4 M95 456.4 v-3.4" stroke="#8a8a8e" stroke-width="0.9"/><ellipse cx="93.4" cy="457" rx="2.4" ry="1.3" fill="#8c7a20"/>
<path d="M95.6 463.6 L104.0 468.1 L104.0 479.5 L95.6 475.0 Z" fill="#515156"/><path d="M112.4 463.6 L104.0 468.1 L104.0 479.5 L112.4 475.0 Z" fill="#3e3e42"/><path d="M95.6 463.6 L104.0 459.1 L112.4 463.6 L104.0 468.1 Z" fill="#f3c21e"/>
<path d="M102.2 461.6 v-3.4 M105.8 463 v-3.4" stroke="#8a8a8e" stroke-width="0.9"/><ellipse cx="104" cy="463.8" rx="2.6" ry="1.4" fill="#8c7a20"/>
<g transform="translate(131.6 528.6) scale(1.0 1.0)"><ellipse cx="1" cy="0.4" rx="6" ry="2" fill="#000" opacity="0.12"/><path d="M-4 -17 L4 -17 L3.6 -2 L5 0 L0.8 0 L0.4 -10 L-0.6 -1.6 L0.8 0.6 L-3.6 0.6 L-3.4 -2 Z" fill="#2b2b30"/><path d="M-4.6 -38 C-4 -40.4 4 -40.4 4.8 -38 L5.4 -16 L-5 -15.4 Z" fill="#f5f5f5"/><path d="M1.6 -39 L4.8 -38 L5.4 -16 L2.4 -16 Z" fill="#dcdcdc"/><path d="M2 -37 L8 -31 L7 -29.4 L1.6 -32 Z" fill="#ececec"/><circle cx="0.4" cy="-43" r="3" fill="#f0b692"/><path d="M-2.8 -43.2 C-3.4 -47.6 3.8 -47.8 3.6 -43.6 C2 -45.2 -1 -45.2 -2.8 -43.2 Z" fill="#3a2a22"/></g>
<path d="M118 496.4 l7 -3.4 l1 2.6 l-7 3.6 z" fill="#f1f1f1"/>
<g transform="translate(222.4 503.0) scale(-0.92 0.92)"><ellipse cx="1" cy="0.4" rx="6" ry="2" fill="#000" opacity="0.12"/><path d="M-4 -17 L4 -17 L3.6 -2 L5 0 L0.8 0 L0.4 -10 L-0.6 -1.6 L0.8 0.6 L-3.6 0.6 L-3.4 -2 Z" fill="#2b2b30"/><path d="M-4.6 -38 C-4 -40.4 4 -40.4 4.8 -38 L5.4 -16 L-5 -15.4 Z" fill="#f5f5f5"/><path d="M1.6 -39 L4.8 -38 L5.4 -16 L2.4 -16 Z" fill="#dcdcdc"/><path d="M2 -37 L8 -31 L7 -29.4 L1.6 -32 Z" fill="#ececec"/><circle cx="0.4" cy="-43" r="3" fill="#f0b692"/><path d="M-2.8 -43.2 C-3.4 -47.6 3.8 -47.8 3.6 -43.6 C2 -45.2 -1 -45.2 -2.8 -43.2 Z" fill="#f5f5f5"/></g>
<path d="M217.0 486.4 L224.6 486.4 L225.0 497.4 L217.4 497.4 Z" fill="#4a4a55"/>
<path d="M218.4 488.0 L223.4 488.0 L223.6 494.0 L218.6 494.0 Z" fill="#8a8aa6"/>
<g transform="translate(212.4 528.0) scale(-1.0 1.0)"><ellipse cx="1" cy="0.4" rx="6" ry="2" fill="#000" opacity="0.12"/><path d="M-4 -17 L4 -17 L3.6 -2 L5 0 L0.8 0 L0.4 -10 L-0.6 -1.6 L0.8 0.6 L-3.6 0.6 L-3.4 -2 Z" fill="#2b2b30"/><path d="M-4.6 -38 C-4 -40.4 4 -40.4 4.8 -38 L5.4 -16 L-5 -15.4 Z" fill="#f5f5f5"/><path d="M1.6 -39 L4.8 -38 L5.4 -16 L2.4 -16 Z" fill="#dcdcdc"/><path d="M2 -37 L8 -31 L7 -29.4 L1.6 -32 Z" fill="#ececec"/><circle cx="0.4" cy="-43" r="3" fill="#f0b692"/><path d="M-3 -43.4 C-3 -48.4 4 -48.4 4 -43.4 L4.8 -43 L-3.6 -43 Z" fill="#f2c520"/></g>
<g transform="translate(313.0 569.6) scale(-0.96 0.96)"><ellipse cx="1" cy="0.4" rx="6" ry="2" fill="#000" opacity="0.12"/><path d="M-4 -17 L4 -17 L3.6 -2 L5 0 L0.8 0 L0.4 -10 L-0.6 -1.6 L0.8 0.6 L-3.6 0.6 L-3.4 -2 Z" fill="#2b2b30"/><path d="M-4.6 -38 C-4 -40.4 4 -40.4 4.8 -38 L5.4 -16 L-5 -15.4 Z" fill="#f5f5f5"/><path d="M1.6 -39 L4.8 -38 L5.4 -16 L2.4 -16 Z" fill="#dcdcdc"/><path d="M2 -37 L8 -31 L7 -29.4 L1.6 -32 Z" fill="#ececec"/><circle cx="0.4" cy="-43" r="3" fill="#f0b692"/><path d="M-2.8 -43.2 C-3.4 -47.6 3.8 -47.8 3.6 -43.6 C2 -45.2 -1 -45.2 -2.8 -43.2 Z" fill="#1f1f21"/></g>
<path d="M305 531 l-4 -5 l1.6 -1 l4.6 4.6 z" fill="#ececec"/>
<path d="M860.0 566.0 L894.0 575.6 L836.0 590.0 L800.0 584.0 Z" fill="#e9e5ec"/>
<path d="M506.7 489.3 L574.0 474.0 L860.0 530.0 L794.0 548.0 Z" fill="#f2e6d0"/>
<path d="M664 500 C690 494 730 500 760 510 C780 517 770 527 745 528 C715 529 680 524 660 516 C650 511 652 503 664 500 Z" fill="#e6d4b6"/>
<path d="M700 512 C715 508 735 511 742 516 C738 522 715 523 703 519 C697 516 697 514 700 512 Z" fill="#d9c19c" opacity="0.8"/>
<path d="M551.6 498.5 L611.0 482.0 L678.0 495.0 L619.0 512.2 Z" fill="#e3c5a2"/>
<path d="M585.0 490.0 L611.0 482.0 L678.0 495.0 L652.0 503.0 Z" fill="#ecd5b8"/>
<path d="M506.7 489.3 L574.0 474.0 L611.0 482.0 L551.6 498.5 Z" fill="#5f4134"/>
<path d="M522.0 487.0 L566.0 476.0 L596.0 482.0 L560.0 493.0 L540.0 497.0 Z" fill="#4a3027"/>
<path d="M506.7 488.8 L794.0 547.5 L792.0 584.0 L507.7 517.0 Z" fill="#7a574a"/>
<path d="M560 528.3 C600 529.8 640 540.2 680 547.0 C720 555.0 760 568.5 793 576.0 L792 584 L560 529.3 Z" fill="#6a493f"/>
<path d="M575 511.3 C610 522.4 650 535.6 690 545.7 C730 556.9 765 567.1 793.6 575 L793 579 C760 568.5 720 555.0 680 547.0 C640 540.2 600 529.8 575 512.3 Z" fill="#8c6656"/>
<path d="M550 496.5 L794 546.4 L794 575 C765 567.1 730 556.9 690 545.7 C650 535.6 610 522.4 575 508.3 Z" fill="#d5aa83"/>
<path d="M617 509.4 L794 545.6 L794 563.4 C770 557.1 740 548.0 700 538.2 C670 529.3 640 519.5 619 512.6 Z" fill="#ecd9bc"/>
<path d="M506.7 489.3 L507.7 517.0 L506.7 516.6 Z" fill="#6b4a3e"/>
<path d="M794.0 547.0 L860.0 529.0 L860.0 576.0 L794.0 584.0 Z" fill="#3b2b29"/>
<path d="M794.0 547.0 L860.0 529.0 L860.0 558.0 L846.0 566.0 L830.0 566.0 L812.0 574.0 L794.0 576.0 Z" fill="#c89f7b"/>
<path d="M794.0 547.0 L860.0 529.0 L860.0 546.4 L794.0 564.0 Z" fill="#ecd7b6"/>
<path d="M792 584 L794 578 L830 571 L860 566 L860 576 L842 583 L820 588 L800 588 Z" fill="#3b2b29"/>
<ellipse cx="783.0" cy="586.6" rx="3.4" ry="1.6" fill="#5a4038"/>
<ellipse cx="790.0" cy="588.6" rx="4.0" ry="1.8" fill="#5a4038"/>
<ellipse cx="800.0" cy="590.0" rx="3.6" ry="1.6" fill="#5a4038"/>
<ellipse cx="812.0" cy="589.0" rx="4.4" ry="1.8" fill="#5a4038"/>
<ellipse cx="772.0" cy="586.0" rx="1.6" ry="0.9" fill="#5a4038"/>
<path d="M571.0 492.0 L577.0 490.0 L580.0 492.0 L574.0 494.0 Z" fill="#b98f68"/>
<path d="M587.0 489.0 L596.0 486.0 L598.0 490.0 L590.0 492.0 Z" fill="#b98f68"/>
<path d="M631.0 485.0 L637.0 482.0 L640.0 486.0 L633.0 488.0 Z" fill="#c79f78"/>
<path d="M640.0 492.0 L650.0 490.0 L660.0 497.0 L650.0 500.0 Z" fill="#b38a66"/>
<path d="M642.0 508.0 l0.9 -2.4 l0.9 2.4 z" fill="#f3f3f3"/><rect x="642.0" y="507.8" width="1.8" height="0.6" fill="#e2863a"/>
<path d="M652.0 510.0 l0.9 -2.4 l0.9 2.4 z" fill="#f3f3f3"/><rect x="652.0" y="509.8" width="1.8" height="0.6" fill="#e2863a"/>
<path d="M663.0 513.0 l0.9 -2.4 l0.9 2.4 z" fill="#f3f3f3"/><rect x="663.0" y="512.8" width="1.8" height="0.6" fill="#e2863a"/>
<path d="M670.0 515.6 l0.9 -2.4 l0.9 2.4 z" fill="#f3f3f3"/><rect x="670.0" y="515.4" width="1.8" height="0.6" fill="#e2863a"/>
<ellipse cx="676.6" cy="519.6" rx="5.6" ry="3.0" fill="#5b4236"/>
<ellipse cx="703.0" cy="526.4" rx="5.2" ry="2.6" fill="#5b4236"/>
<ellipse cx="737.0" cy="508.4" rx="6.6" ry="3.0" fill="#5b4236"/>
<ellipse cx="750.0" cy="512.0" rx="6.0" ry="2.8" fill="#5b4236"/>
<ellipse cx="760.0" cy="511.4" rx="3.6" ry="1.8" fill="#5b4236"/>
<ellipse cx="730.0" cy="503.6" rx="3.0" ry="1.6" fill="#5b4236"/>
<path d="M689.0 517.0 L695.0 515.6 L696.0 521.0 L690.0 522.0 Z" fill="#c9a64a"/>
<path d="M740.0 524.0 L755.0 510.6 L768.0 522.0 L756.0 529.0 Z" fill="#d9b992"/>
<path d="M755.0 510.6 L768.0 522.0 L756.0 529.0 Z" fill="#c8a47c"/>
<path d="M758.0 524.0 L769.0 512.6 L781.0 523.0 L770.0 529.6 Z" fill="#e1c39d"/>
<path d="M769.0 512.6 L781.0 523.0 L770.0 529.6 Z" fill="#cfac84"/>
<ellipse cx="556" cy="484" rx="20" ry="4" fill="#3a2820" opacity="0.4"/>
<path d="M548.0 476.0 L572.0 470.0 L578.0 474.0 L578.0 481.0 L556.0 487.0 L548.0 483.0 Z" fill="#3b2f2c"/>
<path d="M556.0 464.0 L570.0 460.6 L577.0 464.0 L577.0 474.0 L562.0 478.0 L556.0 474.0 Z" fill="#f2c627"/>
<path d="M556.0 464.0 L570.0 460.6 L577.0 464.0 L563.0 467.6 Z" fill="#ffe061"/>
<path d="M563.0 467.6 L577.0 464.0 L577.0 474.0 L563.0 478.0 Z" fill="#d9a91c"/>
<path d="M565.0 469.0 L570.0 467.8 L570.0 472.0 L565.0 473.2 Z" fill="#4a3a34"/>
<path d="M572.0 467.4 L575.6 466.4 L575.6 470.6 L572.0 471.6 Z" fill="#4a3a34"/>
<path d="M560 470 L538 458.6 L536.4 461 L556 474 Z" fill="#4a3a36"/>
<path d="M539 458.6 L561 457.6 L561.4 459 L540 460.4 Z" fill="#6b5a54"/>
<path d="M534.0 464.0 L541.0 460.0 L544.0 468.0 L540.0 473.6 L534.6 471.0 Z" fill="#5a463f"/>
<g transform="translate(535.0 494.6) scale(0.98 0.98)"><ellipse cx="1" cy="-0.6" rx="15" ry="3.4" fill="#3a2820" opacity="0.35"/><path d="M-14 -12 L-4 -16 L13 -12.6 L15 -9 L6 -5 L-6 -5.4 L-13 -8 Z" fill="#f2c627"/><path d="M-14 -12 L-4 -16 L13 -12.6 L4 -9.4 Z" fill="#ffe061"/><path d="M-13 -8 L-6 -5.4 L-5.6 -1.6 L-12 -4.4 Z" fill="#d9a91c"/><path d="M-6 -5.4 L6 -5 L8 -2 L-5.6 -1.6 Z" fill="#caa01c"/><path d="M6 -8 L12 -10.4 L13 -5.4 L8 -3 Z" fill="#e9bd22"/><ellipse cx="-8.6" cy="-2.6" rx="2.6" ry="3" fill="#3a3230"/><ellipse cx="-8.6" cy="-2.6" rx="1.1" ry="1.3" fill="#e9c54a"/><ellipse cx="-1.6" cy="-0.8" rx="2.8" ry="3.2" fill="#3a3230"/><ellipse cx="-1.6" cy="-0.8" rx="1.2" ry="1.4" fill="#e9c54a"/><ellipse cx="7.6" cy="-1.8" rx="2.6" ry="3" fill="#3a3230"/><ellipse cx="7.6" cy="-1.8" rx="1.1" ry="1.3" fill="#e9c54a"/></g>
<path d="M660.6 459 L665.6 458 L675 489 L670 491 Z" fill="#6b4d45"/>
<path d="M592 431 L662.6 459 M592 431 L665 464.6" stroke="#a3a9b4" stroke-width="1.3" fill="none"/>
<path d="M592.4 431.4 L606.4 486" stroke="#6e6a6a" stroke-width="0.7" fill="none"/>
<path d="M591.6 431.6 L671 497" stroke="#e8ba1e" stroke-width="4.4" fill="none"/>
<path d="M591.6 431.6 L671 497" stroke="#fbe47a" stroke-width="2.2" stroke-dasharray="1.6 1.6" fill="none" opacity="0.85"/>
<circle cx="592" cy="431.4" r="1.6" fill="#5a463f"/>
<path d="M602.0 489.0 L606.0 485.0 L613.0 487.0 L615.0 494.0 L611.0 498.0 L603.0 496.0 Z" fill="#54433f"/>
<path d="M604 488 L606.4 482 L611 487" stroke="#54433f" stroke-width="0.8" fill="none"/>
<path d="M613 493 L660 498" stroke="#8a7d74" stroke-width="0.6" fill="none"/>
<ellipse cx="716" cy="515" rx="22" ry="4.6" fill="#b89a74" opacity="0.55"/>
<path d="M671.6 506.0 L706.7 517.0 L727.4 510.6 L727.4 514.0 L706.7 521.0 L671.6 510.0 Z" fill="#5a4238"/>
<path d="M668.5 494.3 L706.7 504.8 L706.7 516.8 L668.5 506.2 Z" fill="#eec22a"/>
<path d="M706.7 504.8 L726.5 499.6 L727.0 510.6 L706.7 516.8 Z" fill="#f2c627"/>
<path d="M668.5 494.3 L684.3 487.0 L726.5 499.6 L706.7 504.8 Z" fill="#f8da4c"/>
<path d="M671.0 496.6 v5.4" stroke="#d4a61a" stroke-width="0.9"/>
<path d="M674.4 497.5 v5.4" stroke="#d4a61a" stroke-width="0.9"/>
<path d="M677.8 498.5 v5.4" stroke="#d4a61a" stroke-width="0.9"/>
<path d="M681.2 499.4 v5.4" stroke="#d4a61a" stroke-width="0.9"/>
<path d="M684.6 500.3 v5.4" stroke="#d4a61a" stroke-width="0.9"/>
<path d="M688.0 501.3 v5.4" stroke="#d4a61a" stroke-width="0.9"/>
<path d="M696.0 502.8 L703.4 504.8 L703.4 511.8 L696.0 509.8 Z" fill="#6b4d45"/>
<path d="M672.0 503.6 L690.0 508.6 L690.0 510.6 L672.0 505.6 Z" fill="#6b4d45"/>
<path d="M708.0 515.1 L712.0 504.9 L713.8 504.5 L709.8 514.7 Z" fill="#5a4238"/>
<path d="M712.8 513.8 L716.8 503.6 L718.6 503.2 L714.6 513.4 Z" fill="#5a4238"/>
<path d="M717.6 512.5 L721.6 502.3 L723.4 501.9 L719.4 512.1 Z" fill="#5a4238"/>
<path d="M722.4 511.3 L726.4 501.1 L728.2 500.7 L724.2 510.9 Z" fill="#5a4238"/>
<path d="M676.0 492.4 L684.0 489.0 L694.0 492.0 L686.0 495.4 Z" fill="#e4b81e"/>
<path d="M712.0 494.4 L719.0 492.4 L725.4 495.6 L718.0 497.6 Z" fill="#6b4d45"/>
<path d="M700.4 477.6 L704 479.4 L695.4 494 L691.4 492.4 Z" fill="#6b4d45"/>
<path d="M700.4 477.6 L704 478.6 L710 497 L706 498.4 Z" fill="#7b5c52"/>
<path d="M778.0 508.0 L786.0 505.0 L796.0 509.0 L796.0 513.0 L788.0 516.6 L778.0 513.0 Z" fill="#e9bd22"/>
<path d="M782.0 506.0 L787.0 504.4 L791.0 506.0 L786.0 508.0 Z" fill="#3b2f2c"/>
<ellipse cx="781.6" cy="513.6" rx="2" ry="2.3" fill="#3a3230"/><ellipse cx="789.6" cy="515.6" rx="2" ry="2.3" fill="#3a3230"/>
<path d="M792.0 511.0 L798.0 512.0 L799.0 516.0 L793.0 516.6 Z" fill="#4a3a34"/>
<g transform="translate(788.0 539.6) scale(1.02 1.02)"><ellipse cx="1" cy="-0.6" rx="15" ry="3.4" fill="#3a2820" opacity="0.35"/><path d="M-14 -12 L-4 -16 L13 -12.6 L15 -9 L6 -5 L-6 -5.4 L-13 -8 Z" fill="#f2c627"/><path d="M-14 -12 L-4 -16 L13 -12.6 L4 -9.4 Z" fill="#ffe061"/><path d="M-13 -8 L-6 -5.4 L-5.6 -1.6 L-12 -4.4 Z" fill="#d9a91c"/><path d="M-6 -5.4 L6 -5 L8 -2 L-5.6 -1.6 Z" fill="#caa01c"/><path d="M6 -8 L12 -10.4 L13 -5.4 L8 -3 Z" fill="#e9bd22"/><ellipse cx="-8.6" cy="-2.6" rx="2.6" ry="3" fill="#3a3230"/><ellipse cx="-8.6" cy="-2.6" rx="1.1" ry="1.3" fill="#e9c54a"/><ellipse cx="-1.6" cy="-0.8" rx="2.8" ry="3.2" fill="#3a3230"/><ellipse cx="-1.6" cy="-0.8" rx="1.2" ry="1.4" fill="#e9c54a"/><ellipse cx="7.6" cy="-1.8" rx="2.6" ry="3" fill="#3a3230"/><ellipse cx="7.6" cy="-1.8" rx="1.1" ry="1.3" fill="#e9c54a"/></g>
<circle cx="206.6" cy="424.7" r="36.5" fill="#fff" stroke="#2f93e6" stroke-width="1.8" filter="url(#glow2)"/>
<circle cx="688" cy="431.7" r="36.7" fill="#fff" stroke="#2f93e6" stroke-width="1.8" filter="url(#glow2)"/>
<path d="M192.4 405.2 L202.0 404.0 L202.0 437.0 L192.4 437.2 Z" fill="#4a5162"/>
<path d="M202.0 404.0 L212.0 401.2 L212.0 434.6 L202.0 437.0 Z" fill="#cfcac6"/>
<path d="M202.0 404.0 L203.6 403.6 L203.6 436.6 L202.0 437.0 Z" fill="#b4aeaa"/>
<path d="M192.4 405.2 L197.9 402.0 L212.0 401.2 L202.0 404.0 Z" fill="#8b8f99"/>
<rect x="196.7" y="401.4" width="5.3" height="2.2" fill="#2f9a5a"/>
<rect x="195.1" y="422.5" width="4.8" height="3.2" fill="#1d2230"/>
<rect x="195.1" y="428.4" width="4.8" height="3.2" fill="#1d2230"/>
<rect x="195.3" y="423.8" width="2.9" height="1.6" fill="#8fc0f0"/>
<rect x="195.3" y="410.6" width="3.8" height="1" fill="#8fb4e8"/>
<rect x="196.2" y="413.2" width="1.2" height="6.6" fill="#262b3a"/>
<rect x="194.3" y="434.4" width="6.0" height="0.8" fill="#c9ced8"/>
<rect x="215.1" y="404" width="1" height="28.6" fill="#26262a"/><rect x="214.8" y="404" width="1.6" height="9" fill="#2e2e33"/>
<path d="M212.6 435.6 L214.6 431.6 H216.6 L218.8 435.6 Z" fill="#1e1e22"/>
<path d="M211.4 433 Q213 436 214.4 434" stroke="#333" stroke-width="0.6" fill="none"/>
<path d="M674.4 417.2 L681.0 416.0 L681.0 448.0 L674.4 448.2 Z" fill="#4a5162"/>
<path d="M681.0 416.0 L693.6 413.2 L693.6 445.6 L681.0 448.0 Z" fill="#cfcac6"/>
<path d="M681.0 416.0 L682.6 415.6 L682.6 447.6 L681.0 448.0 Z" fill="#b4aeaa"/>
<path d="M674.4 417.2 L681.3 414.0 L693.6 413.2 L681.0 416.0 Z" fill="#8b8f99"/>
<rect x="677.4" y="413.4" width="3.6" height="2.2" fill="#2f9a5a"/>
<rect x="676.2" y="433.9" width="3.3" height="3.2" fill="#1d2230"/>
<rect x="676.2" y="439.7" width="3.3" height="3.2" fill="#1d2230"/>
<rect x="676.4" y="435.2" width="2.0" height="1.6" fill="#8fc0f0"/>
<rect x="676.4" y="422.4" width="2.6" height="1" fill="#8fb4e8"/>
<rect x="677.0" y="425.0" width="1.2" height="6.4" fill="#262b3a"/>
<rect x="675.7" y="445.4" width="4.1" height="0.8" fill="#c9ced8"/>
<rect x="697.6" y="400" width="0.9" height="41" fill="#26262a"/>
<path d="M695.6 447 L697.4 441 H698.8 L700.8 447 Z" fill="#1e1e22"/>
<path d="M693 444.6 Q695 448 696.4 445.6" stroke="#333" stroke-width="0.6" fill="none"/>
<rect x="106" y="273" width="124.6" height="34.6" rx="3.5" fill="#0c7dcc"/>
<rect x="382.4" y="191" width="124" height="34.6" rx="3.5" fill="#0c7dcc"/>
<rect x="653.6" y="210" width="124" height="35" rx="3.5" fill="#0c7dcc"/>
<rect x="137.6" y="602" width="124.4" height="34.6" rx="3.5" fill="#0c7dcc"/>
<rect x="640" y="602" width="124" height="34.6" rx="3.5" fill="#0c7dcc"/>
<text x="136" y="298.3" font-size="22" fill="#fff">客户端</text>
<text x="400.5" y="216" font-size="22" fill="#fff">监控中心</text>
<text x="683.5" y="236.2" font-size="22" fill="#fff">工程师</text>
<text x="170.5" y="626.8" font-size="22" fill="#fff">现场A</text>
<text x="672" y="626.3" font-size="22" fill="#fff">现场N</text>
<circle cx="37.3" cy="91.0" r="1.6" fill="#585858"/>
<text x="57.2" y="95.3" font-size="12.4" fill="#585858">实时监控设备状态</text>
<circle cx="37.3" cy="108.7" r="1.6" fill="#585858"/>
<text x="57.2" y="113" font-size="12.4" fill="#585858">手机提交故障报修</text>
<circle cx="279.4" cy="169.5" r="1.5" fill="#585858"/>
<text x="298" y="173.3" font-size="11.5" fill="#585858">设备运营管理</text>
<circle cx="279.4" cy="186.2" r="1.5" fill="#585858"/>
<text x="298" y="190" font-size="11.5" fill="#585858">设备故障报警</text>
<circle cx="279.4" cy="202.9" r="1.5" fill="#585858"/>
<text x="298" y="206.7" font-size="11.5" fill="#585858">设备远程维护</text>
<circle cx="279.4" cy="219.6" r="1.5" fill="#585858"/>
<text x="298" y="223.4" font-size="11.5" fill="#585858">数据预测分析</text>
<circle cx="797" cy="166.5" r="1.5" fill="#585858"/>
<text x="816.2" y="170.5" font-size="12.3" fill="#585858">远程监控</text>
<circle cx="797" cy="184.6" r="1.5" fill="#585858"/>
<text x="816.2" y="188.6" font-size="12.3" fill="#585858">远程配置</text>
<circle cx="797" cy="202.8" r="1.5" fill="#585858"/>
<text x="816.2" y="206.8" font-size="12.3" fill="#585858">远程调试</text>
<circle cx="797" cy="220.9" r="1.5" fill="#585858"/>
<text x="816.2" y="224.9" font-size="12.3" fill="#585858">远程上下载</text>
<text x="279" y="123.7" font-size="10.5" fill="#5c5c5c">设备运维管理平台</text>
<text x="747.6" y="135.4" font-size="10.5" fill="#5c5c5c">设备维护快线</text>
<text x="194" y="452.4" font-size="12" fill="#606060">网关</text>
<text x="676" y="462.9" font-size="12" fill="#606060">网关</text>
<circle cx="415.4" cy="585.6" r="4.8" fill="#0e84de"/><circle cx="450" cy="585.6" r="4.8" fill="#0e84de"/><circle cx="480" cy="585.6" r="4.8" fill="#0e84de"/>
</svg>
<div class="t" style="left:57px;top:84px;font-size:12.4px">• 实时监控设备状态</div>
<div class="t" style="left:57px;top:101.5px;font-size:12.4px">• 手机提交故障报修</div>
<div class="t" style="left:136px;top:276px;font-size:22px">客户端</div>
<div class="t" style="left:400px;top:194px;font-size:22px">监控中心</div>
<div class="t" style="left:683px;top:214px;font-size:22px">工程师</div>
<div class="t" style="left:171px;top:605px;font-size:22px">现场A</div>
<div class="t" style="left:672px;top:605px;font-size:22px">现场N</div>
<div class="t" style="left:279px;top:113px;font-size:10px">设备运维管理平台</div>
<div class="t" style="left:748px;top:125px;font-size:10px">设备维护快线</div>
<div class="t" style="left:298px;top:162px;font-size:11.5px">• 设备运营管理</div>
<div class="t" style="left:298px;top:178.7px;font-size:11.5px">• 设备故障报警</div>
<div class="t" style="left:298px;top:195.4px;font-size:11.5px">• 设备远程维护</div>
<div class="t" style="left:298px;top:212px;font-size:11.5px">• 数据预测分析</div>
<div class="t" style="left:816px;top:159px;font-size:12.3px">• 远程监控</div>
<div class="t" style="left:816px;top:177px;font-size:12.3px">• 远程配置</div>
<div class="t" style="left:816px;top:195px;font-size:12.3px">• 远程调试</div>
<div class="t" style="left:816px;top:213px;font-size:12.3px">• 远程上下载</div>
<div class="t" style="left:194px;top:441px;font-size:12px">网关</div>
<div class="t" style="left:676px;top:452px;font-size:12px">网关</div>
</body></html>
